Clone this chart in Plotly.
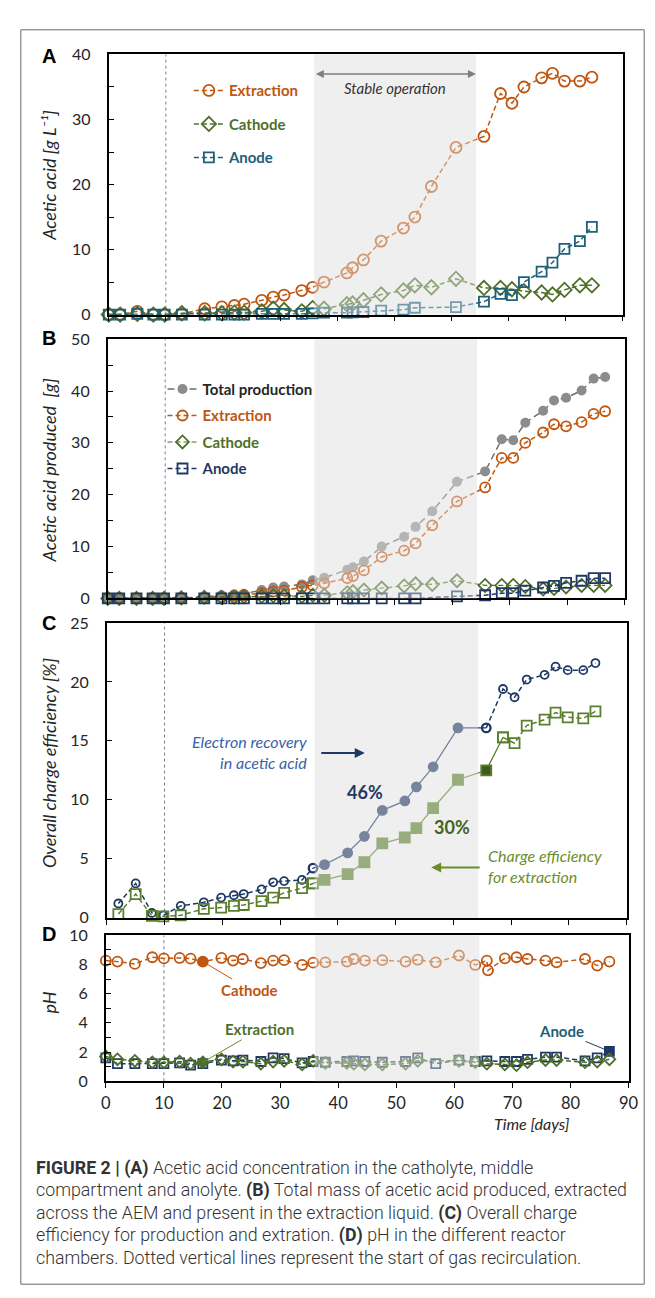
import plotly.graph_objects as go

# ---------------- data ----------------
days_a = [0, 2, 5, 7.8, 9.8, 12.8, 16.8, 19.8, 22, 23.7, 26.8, 28.8, 30.7, 33.8, 35.7, 37.7,
          41.7, 42.7, 44.6, 47.7, 51.6, 53.6, 56.5, 60.8, 65.7, 68.6, 70.6, 72.7, 75.8, 77.7,
          79.8, 82.5, 84.6]
a_extraction = [0, 0, 0.5, 0, 0, 0.1, 0.9, 1.2, 1.4, 1.6, 2.2, 2.7, 3.0, 3.7, 4.2, 5.0, 6.4, 7.2,
                8.4, 11.3, 13.3, 15.0, 19.7, 25.7, 27.4, 34.0, 32.5, 35.0, 36.4, 37.1, 35.9, 35.9, 36.5]
a_cathode = [0, 0, 0.1, 0, 0, 0.2, 0.2, 0.2, 0.3, 0.3, 0.5, 0.9, 0.7, 0.5, 1.0, 0.9, 1.6, 1.7,
             2.2, 3.1, 3.7, 4.5, 4.2, 5.5, 4.1, 4.1, 3.9, 3.6, 3.4, 3.1, 3.8, 4.5, 4.5]
a_anode = [0, 0, 0.1, 0, 0, 0, 0, 0, 0, 0, 0.1, 0.1, 0.1, 0.1, 0.2, 0.3, 0.3, 0.35, 0.4, 0.6,
           0.75, 1.05, None, 1.15, 2.0, 3.2, 3.0, 5.0, 6.6, 8.0, 10.1, 11.3, 13.5]

days_b = days_a + [86.6]
b_total = [0, 0, 0, 0, 0, 0.1, 0.3, 0.6, 0.8, 0.9, 1.6, 2.1, 2.3, 2.7, 3.5, 4.0, 5.5, 6.0, 7.1,
           10.0, 11.9, 13.8, 16.8, 22.5, 24.5, 30.7, 30.5, 33.9, 36.2, 38.2, 38.7, 40.1, 42.4, 42.7]
b_extraction = [0, 0, 0, 0, 0, 0, 0.1, 0.3, 0.5, 0.6, 1.0, 1.3, 1.5, 2.2, 2.5, 2.9, 3.9, 4.3, 5.4,
                8.0, 9.2, 10.6, 14.1, 18.7, 21.4, 27.1, 27.1, 30.0, 32.0, 33.6, 33.2, 34.0, 35.6, 36.1]
b_cathode = [0, 0, 0, 0, 0, 0.1, 0.2, 0.2, 0.2, 0.3, 0.4, 0.5, 0.5, 0.4, 0.6, 0.6, 1.1, 1.3, 1.6,
             2.0, 2.4, 2.8, 2.7, 3.4, 2.5, 2.5, 2.5, 2.3, 1.8, 1.9, 2.2, 2.5, 2.5, 2.5]
b_anode = [0, 0, 0, 0, 0, 0, 0, 0, 0, 0, 0, 0, 0, 0, 0, 0, 0, 0, 0, 0, 0, 0, None, 0.4, 0.6,
           1.0, 1.0, 1.5, 2.1, 2.4, 3.0, 3.4, 3.9, 3.9]

days_c = [2, 5, 7.8, 9.8, 12.8, 16.8, 19.8, 22, 23.7, 26.8, 28.8, 30.7, 33.8, 35.7, 37.7, 41.7,
          44.6, 47.7, 51.6, 53.6, 56.5, 60.8, 65.7, 68.6, 70.6, 72.7, 75.8, 77.7, 79.8, 82.5, 84.6]
c_recovery = [1.2, 2.9, 0.4, 0.2, 1.0, 1.3, 1.7, 1.9, 2.0, 2.4, 3.0, 3.1, 3.2, 4.2, 4.5, 5.5, 6.9,
              9.1, 9.9, 11.1, 12.8, 16.1, 16.1, 19.4, 18.7, 20.2, 20.6, 21.3, 21.0, 21.0, 21.6]
c_extraction = [0.3, 2.0, 0.15, 0.1, 0.2, 0.75, 0.85, 1.0, 1.07, 1.4, 1.7, 2.1, 2.5, 2.9, 3.2,
                3.7, 4.7, 6.3, 6.8, 7.6, 9.3, 11.7, 12.5, 15.3, 14.8, 16.3, 16.8, 17.4, 17.0, 16.9, 17.5]

days_d = [0, 2, 5, 8, 10, 12.7, 14.6, 16.7, 19.9, 21.9, 23.6, 26.7, 28.8, 30.7, 33.8, 35.7, 37.8,
          41.5, 42.7, 44.6, 47.6, 51.6, 53.7, 56.8, 60.8, 63.6, 65.6, 65.8, 68.7, 70.7, 72.6, 75.7,
          77.6, 82.5, 84.6, 86.7]
d_cathode = [8.27, 8.2, 8.04, 8.5, 8.42, 8.45, 8.4, 8.2, 8.45, 8.27, 8.38, 8.1, 8.27, 8.3, 7.97,
             8.13, 8.15, 8.2, 8.38, 8.27, 8.3, 8.2, 8.33, 8.15, 8.62, 7.97, 8.27, 7.6, 8.42, 8.5,
             8.38, 8.27, 8.15, 8.38, 7.93, 8.2]
d_anode = [1.6, 1.2, 1.2, 1.2, 1.2, 1.25, 1.1, 1.2, 1.45, 1.4, 1.45, 1.35, 1.6, 1.55, 1.25, 1.35,
           1.3, 1.35, 1.4, 1.35, 1.3, 1.35, 1.6, 1.2, 1.45, 1.35, 1.4, None, 1.35, 1.35, 1.5, 1.65,
           1.65, 1.4, 1.6, 2.05]
d_extraction = [1.7, 1.5, 1.4, 1.3, 1.3, 1.35, 1.2, 1.3, 1.5, 1.35, 1.35, 1.2, 1.35, 1.4, 1.15,
                1.4, 1.25, 1.25, 1.2, 1.15, 1.15, 1.2, 1.4, None, 1.4, 1.3, 1.2, None, 1.15, 1.1,
                1.3, 1.45, 1.45, 1.3, 1.35, 1.5]

stable_period = [36, 64.3]
recirculation_day = 10

caption_lines = [
    "<b>FIGURE 2 | (A)</b> Acetic acid concentration in the catholyte, middle",
    "compartment and anolyte. <b>(B)</b> Total mass of acetic acid produced, extracted",
    "across the AEM and present in the extraction liquid. <b>(C)</b> Overall charge",
    "efficiency for production and extration. <b>(D)</b> pH in the different reactor",
    "chambers. Dotted vertical lines represent the start of gas recirculation.",
]

# ---------------- style ----------------
W, H = 655, 1298
FONT = "Lato"
ORANGE = "#C0560F"
GREEN = "#4F6F28"
TEAL = "#1F6079"
NAVY = "#1F3864"
CGREEN = "#5A7F2E"
GRAY = "#8C8C8C"
TXT = "#262626"


def px(x):
    return x / W


def py(y):
    return 1 - y / H


panels = {  # left, right, top, bottom in pixels
    "A": (98, 624, 37, 301),
    "B": (97, 626, 326, 589),
    "C": (96, 628, 614, 913),
    "D": (95, 630, 931, 1079),
}
axis_ids = {"A": ("x", "y"), "B": ("x2", "y2"), "C": ("x3", "y3"), "D": ("x4", "y4")}
yranges = {"A": (0, 40, 10, 5), "B": (0, 50, 10, 5), "C": (0, 25, 5, None), "D": (0, 10, 2, 1)}

fig = go.Figure()


def trace(x, y, p, color, symbol, size, name=None, legend=None, dash="5px,3px",
          mcolor=None, lw=1.5, mlw=1.8):
    xa, ya = axis_ids[p]
    fig.add_trace(go.Scatter(
        x=x, y=y, xaxis=xa, yaxis=ya, mode="lines+markers",
        line=dict(color=color, width=lw, dash=dash),
        marker=dict(symbol=symbol, size=size, color=mcolor if mcolor is not None else color,
                    line=dict(width=mlw, color=color)),
        name=name if name else "", showlegend=name is not None,
        legend=legend if legend else "legend", legendgroup=name if name else None,
        cliponaxis=False, connectgaps=True, hoverinfo="skip"))


def lname(text, color):
    return f'<span style="color:{color}"><b>{text}</b></span>'


# Panel A
trace(days_a, a_extraction, "A", ORANGE, "circle-open", 11, lname("Extraction", ORANGE), "legend")
trace(days_a, a_cathode, "A", GREEN, "diamond-open", 11, lname("Cathode", GREEN), "legend")
trace(days_a, a_anode, "A", TEAL, "square-open", 10, lname("Anode", TEAL), "legend")

# Panel B
trace(days_b, b_total, "B", "#6E6E6E", "circle", 10, lname("Total production", "#262626"), "legend2",
      mcolor=GRAY, dash="7px,4px", mlw=0)
trace(days_b, b_extraction, "B", ORANGE, "circle-open", 10, lname("Extraction", ORANGE), "legend2")
trace(days_b, b_cathode, "B", GREEN, "diamond-open", 10, lname("Cathode", GREEN), "legend2", lw=1.2)
trace(days_b, b_anode, "B", NAVY, "square-open", 10, lname("Anode", NAVY), "legend2")


# Panel C : dashed outside stable period, solid with filled markers inside
def split(days, vals, lo, hi):
    idx = [i for i, d in enumerate(days) if lo <= d <= hi]
    i0, i1 = idx[0], idx[-1]
    return (days[:i0 + 1], vals[:i0 + 1]), (days[i0:i1 + 1], vals[i0:i1 + 1]), (days[i1:], vals[i1:])


pre, mid, post = split(days_c, c_recovery, 35, 66)
trace(pre[0], pre[1], "C", NAVY, "circle-open", 8)
trace(post[0], post[1], "C", NAVY, "circle-open", 8)
sym = ["circle"] * len(mid[0])
sym[0] = "circle-open"
sym[-1] = "circle-open"
trace(mid[0], mid[1], "C", NAVY, sym, 9, dash="solid", lw=1.3)

pre, mid, post = split(days_c, c_extraction, 35, 69)
trace(pre[0], pre[1], "C", CGREEN, "square-open", 10)
trace(post[0], post[1], "C", CGREEN, "square-open", 10)
sym = ["square"] * len(mid[0])
sym[0] = "square-open"
sym[-1] = "square-open"
cols = [CGREEN] * len(mid[0])
cols[-2] = "#3E5A1E"
trace(mid[0], mid[1], "C", CGREEN, sym, 10, dash="solid", lw=1.3, mcolor=cols)

# Panel D
sym = ["square-open"] * len(days_d)
sym[-1] = "square"
trace(days_d, d_anode, "D", NAVY, sym, 9)
sym = ["diamond-open"] * len(days_d)
sym[days_d.index(16.7)] = "diamond"
trace(days_d, d_extraction, "D", GREEN, sym, 9)
sym = ["circle-open"] * len(days_d)
sym[days_d.index(16.7)] = "circle"
trace(days_d, d_cathode, "D", ORANGE, sym, 10)

# ---------------- axes ----------------
layout = dict(width=W, height=H, margin=dict(l=0, r=0, t=0, b=0),
              paper_bgcolor="white", plot_bgcolor="white",
              font=dict(family=FONT, size=16, color=TXT), showlegend=True)
for p, (l, r, t, b) in panels.items():
    xa, ya = axis_ids[p]
    xk = "xaxis" if xa == "x" else "xaxis" + xa[1:]
    yk = "yaxis" if ya == "y" else "yaxis" + ya[1:]
    lo, hi, dt, mdt = yranges[p]
    layout[xk] = dict(domain=[px(l), px(r)], anchor=ya, range=[0, 90], dtick=10, tick0=0,
                      showline=True, linecolor="black", linewidth=1.8, mirror=True,
                      ticks="outside", ticklen=5, tickwidth=1, tickcolor="black",
                      showgrid=False, zeroline=False, showticklabels=(p == "D"),
                      tickfont=dict(size=16.5, color=TXT), ticklabelstandoff=1)
    ydict = dict(domain=[py(b), py(t)], anchor=xa, range=[lo, hi], dtick=dt, tick0=0,
                 showline=True, linecolor="black", linewidth=1.8, mirror=True,
                 ticks="inside", ticklen=5, tickwidth=1, tickcolor="black",
                 showgrid=False, zeroline=False, tickfont=dict(size=16, color=TXT),
                 ticklabelstandoff=13)
    if mdt:
        ydict["minor"] = dict(ticks="inside", ticklen=5, tickwidth=1, tickcolor="black", dtick=mdt,
                              showgrid=False)
    layout[yk] = ydict

legend_common = dict(xref="paper", yref="paper", xanchor="left", yanchor="top",
                     bgcolor="rgba(0,0,0,0)", itemwidth=30, itemclick=False, itemdoubleclick=False,
                     font=dict(family=FONT, size=15))
layout["legend"] = dict(legend_common, x=px(180), y=py(57), tracegroupgap=11)
layout["legend2"] = dict(legend_common, x=px(153), y=py(360), tracegroupgap=4)
fig.update_layout(**layout)

# ---------------- shapes ----------------
for p in panels:
    xa, ya = axis_ids[p]
    fig.add_shape(type="rect", xref=xa, yref=f"{ya} domain", x0=stable_period[0], x1=stable_period[1],
                  y0=0, y1=1, fillcolor="#EFEFEF", line_width=0, layer="below")
    fig.add_shape(type="rect", xref=xa, yref=f"{ya} domain", x0=stable_period[0], x1=stable_period[1],
                  y0=0, y1=1, fillcolor="rgba(239,239,239,0.42)", line_width=0, layer="above")
    fig.add_shape(type="line", xref=xa, yref=f"{ya} domain", x0=recirculation_day, x1=recirculation_day,
                  y0=0, y1=1, line=dict(color="#7F7F7F", width=1, dash="3px,3px"), layer="below")

# outer frame
fig.add_shape(type="rect", xref="paper", yref="paper", x0=px(8), x1=px(646), y0=py(1285), y1=py(12),
              line=dict(color="#6A6A6A", width=1), fillcolor="rgba(0,0,0,0)")

ann = []
# panel letters
for p, yy in zip("ABCD", [39, 325, 614, 930]):
    ann.append(dict(text=f"<b>{p}</b>", x=px(37), y=py(yy), xref="paper", yref="paper",
                    xanchor="center", yanchor="middle",
                    showarrow=False, font=dict(family="Liberation Sans", size=20, color="black")))
# axis titles
for txt, yc in [("Acetic acid [g L\u207b\u00b9]", 160), ("Acetic acid produced  [g]", 459),
                ("Overall charge efficiency [%]", 756), ("pH", 999)]:
    ann.append(dict(text=f"<i>{txt}</i>", x=px(37), y=py(yc), xref="paper", yref="paper",
                    xanchor="center", yanchor="middle",
                    textangle=-90, showarrow=False, font=dict(family=FONT, size=18, color=TXT)))
ann.append(dict(text="<i>Time [days]</i>", x=px(572), y=py(1134), xref="paper", yref="paper",
                showarrow=False, font=dict(family=FONT, size=16, color=TXT)))

# stable operation
ann.append(dict(text="", x=stable_period[1], y=37, ax=stable_period[0], ay=37, xref="x", yref="y",
                axref="x", ayref="y", showarrow=True, arrowside="end+start", arrowhead=2,
                arrowsize=1, arrowwidth=1.6, arrowcolor="#7F7F7F"))
ann.append(dict(text="<i>Stable operation</i>", x=sum(stable_period) / 2, y=34.8, xref="x", yref="y",
                showarrow=False, font=dict(family=FONT, size=15, color="#333333")))

# panel C annotations
ann.append(dict(text="<i>Electron recovery<br>in acetic acid</i>", x=px(303), y=py(745), xref="paper",
                yref="paper", xanchor="right", align="right", showarrow=False,
                font=dict(family=FONT, size=16, color="#3A62A8")))
ann.append(dict(text="", x=px(360), y=py(746), ax=-45, ay=0, xref="paper", yref="paper",
                showarrow=True, arrowhead=2, arrowsize=1, arrowwidth=2, arrowcolor=NAVY))
ann.append(dict(text="<b>46%</b>", x=px(360), y=py(785), xref="paper", yref="paper", showarrow=False,
                font=dict(family=FONT, size=18, color=NAVY)))
ann.append(dict(text="<b>30%</b>", x=px(470), y=py(821), xref="paper", yref="paper", showarrow=False,
                font=dict(family=FONT, size=18, color="#43631F")))
ann.append(dict(text="<i>Charge efficiency<br>for extraction</i>", x=px(484), y=py(861), xref="paper",
                yref="paper", xanchor="left", align="left", showarrow=False,
                font=dict(family=FONT, size=16, color="#6B8E2A")))
ann.append(dict(text="", x=px(428), y=py(862), ax=50, ay=0, xref="paper", yref="paper",
                showarrow=True, arrowhead=2, arrowsize=1, arrowwidth=2, arrowcolor="#6B8E2A"))

# panel D labels
i17 = days_d.index(16.7)
ann.append(dict(text="<b>Cathode</b>", x=16.7, y=d_cathode[i17], xref="x4", yref="y4", ax=47, ay=28,
                showarrow=True, arrowhead=0, arrowwidth=1, arrowcolor=ORANGE,
                font=dict(family=FONT, size=15, color=ORANGE)))
ann.append(dict(text="<b>Extraction</b>", x=16.7, y=d_extraction[i17], xref="x4", yref="y4", ax=57,
                ay=-33, showarrow=True, arrowhead=0, arrowwidth=1, arrowcolor="#6B8E2A",
                font=dict(family=FONT, size=15, color=GREEN)))
ann.append(dict(text="<b>Anode</b>", x=days_d[-1], y=d_anode[-1], xref="x4", yref="y4", ax=-48, ay=-20,
                showarrow=True, arrowhead=0, arrowwidth=1, arrowcolor=NAVY,
                font=dict(family=FONT, size=15, color=TEAL)))

# caption
for k, line in enumerate(caption_lines):
    ann.append(dict(text=line, x=px(21), y=py(1167 + k * 22.8), xref="paper", yref="paper",
                    xanchor="left", yanchor="middle", showarrow=False,
                    font=dict(family="Roboto", size=17.8, color="#333333", weight=300)))

fig.update_layout(annotations=ann)
fig.write_html("out.html")
